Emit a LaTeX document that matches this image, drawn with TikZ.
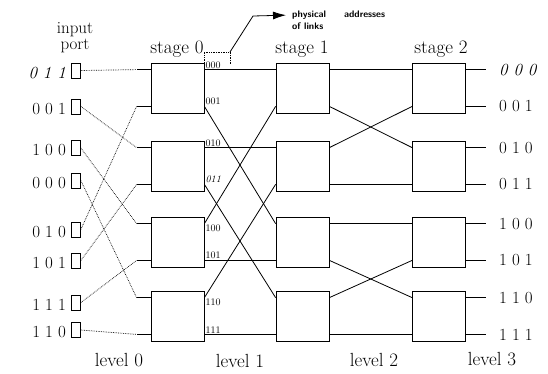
\documentclass[tikz,border=0pt]{standalone}
\usetikzlibrary{arrows.meta}
\tikzset{
  switch/.style={draw, line width=0.8pt, minimum width=53pt, minimum height=50pt, inner sep=0pt},
  port/.style={draw, line width=0.7pt, minimum width=9pt, minimum height=15pt, inner sep=0pt},
  link/.style={line width=0.8pt},
  wire/.style={densely dotted, line width=0.7pt},
  big/.style={font=\fontsize{19}{22}\selectfont, inner sep=0pt},
  addr/.style={font=\fontsize{17}{18}\selectfont, inner sep=0pt},
  linklabel/.style={font=\fontsize{10}{11}\selectfont, inner sep=1pt},
  note/.style={font=\sffamily\bfseries\fontsize{9.5}{10}\selectfont, inner sep=0pt},
}
\begin{document}
\begin{tikzpicture}[x=1pt,y=-1pt]
  \useasboundingbox (0,0) rectangle (548,373);
  % switches
  \foreach \i/\y in {0/88,1/166,2/242,3/316} {
    \node[switch] (s0\i) at (177.5,\y) {};
    \node[switch] (s1\i) at (302.5,\y) {};
    \node[switch] (s2\i) at (439,\y) {};
  }
  % link ends
  \foreach \s in {0,1,2}
    \foreach \i/\u/\l in {0/0/1,1/2/3,2/4/5,3/6/7} {
      \coordinate (in\s-\u) at ([yshift=-7pt]s\s\i.north west);
      \coordinate (in\s-\l) at ([yshift=7pt]s\s\i.south west);
      \coordinate (out\s-\u) at ([yshift=-7pt]s\s\i.north east);
      \coordinate (out\s-\l) at ([yshift=7pt]s\s\i.south east);
    }
  % input ports
  \foreach \k/\y/\t in {0/70.5/{\textit{0 1 1}},1/106.5/0 0 1,2/148/1 0 0,3/180.5/0 0 0,
                         4/229.5/0 1 0,5/260.5/1 0 1,6/302.5/1 1 1,7/330/1 1 0} {
    \node[port] (p\k) at (76,\y) {};
    \node[addr, anchor=base east] (t\k) at ([xshift=-5pt]p\k.south west) {\t};
  }
  \foreach \k in {0,...,7}
    \draw[link] (in0-\k) -- ++(-14,0) coordinate (a\k);
  \foreach \k/\a in {0/0,1/2,2/4,3/6,4/1,5/3,6/5,7/7}
    \draw[wire] (p\k.east) -- (a\a);
  % level 1 and level 2 links
  \foreach \a/\b in {0/0,1/4,2/2,3/6,4/1,5/5,6/3,7/7}
    \draw[link] (out0-\a) -- (in1-\b);
  \foreach \a/\b in {0/0,1/2,2/1,3/3,4/4,5/6,6/5,7/7}
    \draw[link] (out1-\a) -- (in2-\b);
  % outputs
  \foreach \k/\t in {0/{\textit{0 0 0}},1/0 0 1,2/0 1 0,3/0 1 1,4/1 0 0,5/1 0 1,6/1 1 0,7/1 1 1} {
    \draw[link] (out2-\k) -- ++(20,0) coordinate (e\k);
    \node[addr, anchor=west] (o\k) at ([xshift=13pt]e\k) {\t};
  }
  % physical addresses of the level 1 links
  \foreach \k/\t/\p in {0/000/south west,1/001/south west,2/010/south west,3/{\textit{011}}/south west,
                         4/100/north west,5/101/south west,6/110/north west,7/111/south west}
    \node[linklabel, anchor=\p] (n\k) at (out0-\k) {\t};
  % headings
  \node[font=\fontsize{17}{16}\selectfont, align=center, inner sep=0pt] (inp) at (75,37.5) {input\\port};
  \node[big, anchor=base] (st0) at (177,53) {stage 0};
  \node[big, anchor=base] (st1) at (302,53) {stage 1};
  \node[big, anchor=base] (st2) at (441,53) {stage 2};
  \node[big, anchor=base] (lv0) at (119,366) {level 0};
  \node[big, anchor=base] (lv1) at (240,367.5) {level 1};
  \node[big, anchor=base] (lv2) at (374,366) {level 2};
  \node[big, anchor=base] (lv3) at (492,365) {level 3};
  % note
  \node[note, anchor=west] (phys) at (292,15) {physical\hspace{18pt}addresses};
  \node[note, anchor=north west] (ofl) at ([yshift=-3pt]phys.south west) {of links};
  \coordinate (brk) at (230,52);
  \draw[wire] (s00.north east) |- (brk) -- ++(0,13);
  \draw[link, -{Latex[length=13pt,width=8pt]}, shorten >=6pt] (brk) -- (253,16) -- (phys.west);
\end{tikzpicture}
\end{document}
